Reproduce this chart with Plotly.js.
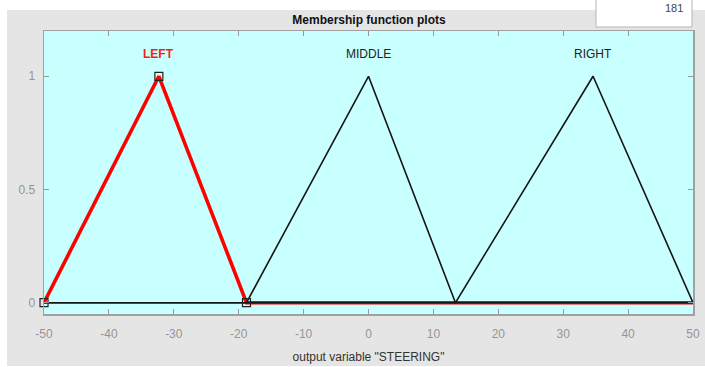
<!DOCTYPE html>
<html>
<head>
<meta charset="utf-8">
<script src="https://cdn.plot.ly/plotly-3.0.1.min.js"></script>
<style>html,body{margin:0;padding:0;background:#fff;}#chart{width:705px;height:367px;}</style>
</head>
<body>
<div id="chart"></div>
<script>
// Membership function names and triangular parameters [a, b, c]
const mfNames = ["LEFT", "MIDDLE", "RIGHT"];
const leftParams = [-50, -32.3, -18.8];
const middleParams = [-18.8, 0, 13.4];
const rightParams = [13.4, 34.6, 50];
const xRange = [-50, 50];
const xTicks = [-50, -40, -30, -20, -10, 0, 10, 20, 30, 40, 50];
const xTickLabels = ["-50", "-40", "-30", "-20", "-10", "0", "10", "20", "30", "40", "50"];
const yTicks = [0, 0.5, 1];
const yTickLabels = ["0", "0.5", "1"];
const labelY = 1.1;

function tri(p) {
  const xs = [], ys = [];
  if (p[0] > xRange[0]) { xs.push(xRange[0]); ys.push(0); }
  xs.push(p[0], p[1], p[2]); ys.push(0, 1, 0);
  if (p[2] < xRange[1]) { xs.push(xRange[1]); ys.push(0); }
  return {x: xs, y: ys};
}

const L = tri(leftParams), M = tri(middleParams), R = tri(rightParams);

const traces = [
  {x: L.x, y: L.y, mode: 'lines', line: {color: '#ff0000', width: 3.6}, hoverinfo: 'skip', cliponaxis: false},
  {x: M.x, y: M.y, mode: 'lines', line: {color: '#151515', width: 1.6}, hoverinfo: 'skip'},
  {x: R.x, y: R.y, mode: 'lines', line: {color: '#151515', width: 1.6}, hoverinfo: 'skip'},
  {x: leftParams, y: [0, 1, 0], mode: 'markers', marker: {symbol: 'square-open', size: 8, color: '#222', line: {width: 1.2}}, hoverinfo: 'skip', cliponaxis: false}
];

const W = 649, H = 283, ml = 44, mt = 31;
const px = v => (v - ml) / W;
const py = v => (mt + H - v) / H;

const layout = {
  width: 705, height: 367,
  margin: {l: 44, r: 12, t: 31, b: 53},
  paper_bgcolor: '#e5e5e5',
  plot_bgcolor: '#c8ffff',
  showlegend: false,
  font: {family: 'Liberation Sans, Arial, sans-serif', size: 12, color: '#8c8c8c'},
  xaxis: {
    range: xRange, tickvals: xTicks, ticktext: xTickLabels, ticks: 'inside', ticklen: 5, tickcolor: '#999',
    showline: true, linecolor: '#a0a0a0', linewidth: 1.5, mirror: 'ticks', showgrid: false, zeroline: false,
    ticklabelstandoff: 8,
    tickfont: {size: 12, color: '#959595'},
    title: {text: 'output variable "STEERING"', font: {size: 12, color: '#333'}, standoff: 12}
  },
  yaxis: {
    range: [-0.05, 1.2], tickvals: yTicks, ticktext: yTickLabels, ticks: 'inside', ticklen: 5, tickcolor: '#999',
    showline: true, linecolor: '#a0a0a0', linewidth: 1.5, mirror: 'ticks', showgrid: false, zeroline: false,
    ticklabelstandoff: 5,
    tickfont: {size: 12, color: '#959595'}
  },
  title: {text: '<b>Membership function plots</b>', font: {size: 12, color: '#111'}, x: px(369), xref: 'paper', xanchor: 'center', y: 1 - 20/367, yanchor: 'middle'},
  shapes: [
    {type: 'rect', xref: 'paper', yref: 'paper', x0: px(0), x1: px(706), y0: py(-1), y1: py(10), fillcolor: '#ffffff', line: {width: 0}, layer: 'below'},
    {type: 'rect', xref: 'paper', yref: 'paper', x0: px(-1), x1: px(7), y0: py(368), y1: py(-1), fillcolor: '#ffffff', line: {width: 0}, layer: 'below'},
    {type: 'rect', xref: 'paper', yref: 'paper', x0: px(0), x1: px(706), y0: py(368), y1: py(366), fillcolor: '#ffffff', line: {width: 0}, layer: 'below'},
    {type: 'rect', xref: 'paper', yref: 'paper', x0: px(596), x1: px(692), y0: py(27), y1: py(-2), fillcolor: '#ffffff', line: {width: 1, color: '#b5b5b5'}}
  ],
  annotations: [
    {x: leftParams[1], y: labelY, text: '<b>' + mfNames[0] + '</b>', showarrow: false, font: {size: 12, color: '#ff1a1a'}},
    {x: middleParams[1], y: labelY, text: mfNames[1], showarrow: false, font: {size: 12, color: '#222'}},
    {x: rightParams[1], y: labelY, text: mfNames[2], showarrow: false, font: {size: 12, color: '#222'}},
    {xref: 'paper', yref: 'paper', x: px(674), y: py(8), text: '181', showarrow: false, font: {size: 11, color: '#444'}, xanchor: 'center', yanchor: 'middle'}
  ]
};

Plotly.newPlot('chart', traces, layout, {displayModeBar: false, staticPlot: true});
</script>
</body>
</html>
